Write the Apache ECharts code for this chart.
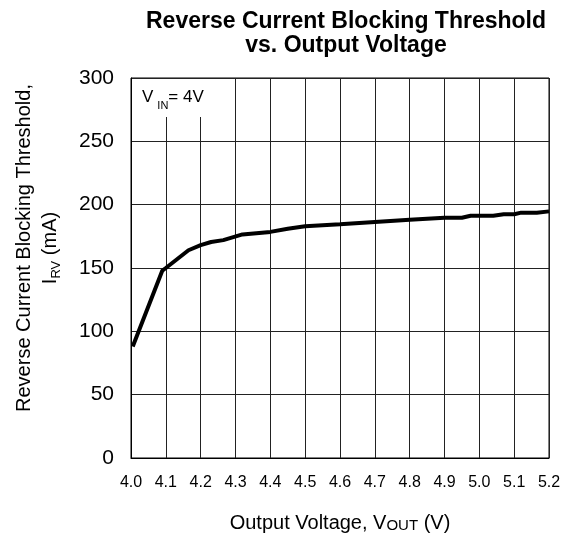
<!DOCTYPE html>
<html>
<head>
<meta charset="utf-8">
<script src="https://cdn.jsdelivr.net/npm/echarts@6/dist/echarts.min.js"></script>
<style>
  html, body { margin: 0; padding: 0; background: #fff; }
  #chart { width: 573px; height: 539px; }
</style>
</head>
<body>
<div id="chart"></div>
<script>
// output voltage (V) vs reverse current blocking threshold (mA)
const vout = [4.005, 4.09, 4.1, 4.165, 4.2, 4.23, 4.265, 4.32, 4.4, 4.45, 4.5, 4.6, 4.7, 4.8, 4.9, 4.95, 4.975, 5.04, 5.07, 5.1, 5.12, 5.165, 5.2];
const irv = [88, 148, 150, 164, 168, 170.5, 172, 176.5, 178.5, 181, 183, 184.5, 186.3, 188, 189.7, 189.7, 191.3, 191.3, 192.4, 192.4, 193.7, 193.7, 194.7];
const yTicks = [0, 50, 100, 150, 200, 250, 300];

const chart = echarts.init(document.getElementById("chart"));
const font = "Arial, 'Liberation Sans', sans-serif";

const option = {
  animation: false,
  textStyle: { fontFamily: font, color: "#000" },
  title: {
    text: "Reverse Current Blocking Threshold\nvs. Output Voltage",
    left: 341,
    textAlign: "center",
    top: 5,
    textStyle: { fontSize: 23, fontWeight: "bold", lineHeight: 24, color: "#000", fontFamily: font },
  },
  grid: {
    left: 131,
    right: 24,
    top: 78,
    bottom: 81,
    outerBoundsMode: "none",
    containLabel: false,
    show: true,
    borderColor: "#000",
    borderWidth: 1,
  },
  xAxis: {
    type: "value",
    min: 4.0,
    max: 5.2,
    interval: 0.1,
    name: "{n|Output Voltage, V}{s|OUT}{n| (V)}",
    nameLocation: "middle",
    nameGap: 55,
    nameTextStyle: {
      rich: {
        n: { fontSize: 20, fontFamily: font, color: "#000" },
        s: { fontSize: 15, fontFamily: font, color: "#000", verticalAlign: "bottom" },
      },
    },
    axisLine: { lineStyle: { color: "#000" } },
    axisTick: { show: false },
    axisLabel: {
      fontSize: 16,
      color: "#000",
      margin: 17,
      formatter: (v) => v.toFixed(1),
    },
    splitLine: { lineStyle: { color: "#222", width: 1 } },
  },
  yAxis: {
    type: "value",
    min: yTicks[0],
    max: yTicks[yTicks.length - 1],
    interval: 50,
    name: "{n|Reverse Current Blocking Threshold,}\n{n|I}{s|RV}{n| (mA)}",
    nameLocation: "middle",
    nameGap: 68,
    nameRotate: 90,
    nameTextStyle: {
      lineHeight: 26,
      padding: [0, 0, 0, 40],
      rich: {
        n: { fontSize: 20, fontFamily: font, color: "#000", lineHeight: 26 },
        s: { fontSize: 13, fontFamily: font, color: "#000", lineHeight: 26, verticalAlign: "bottom" },
      },
    },
    axisLine: { show: true, lineStyle: { color: "#000" } },
    axisTick: { show: false },
    axisLabel: { fontSize: 21, color: "#000", margin: 17 },
    splitLine: { lineStyle: { color: "#222", width: 1 } },
  },
  graphic: [
    {
      type: "rect",
      left: 132,
      top: 79,
      shape: { width: 78, height: 38 },
      style: { fill: "#fff" },
      z: 10,
    },
    {
      type: "text",
      left: 142,
      top: 89,
      style: {
        text: "{n|V}{s|IN}{n|= 4V}",
        rich: {
          n: { fontSize: 17, fontFamily: font, fill: "#000" },
          s: { fontSize: 11, fontFamily: font, fill: "#000", verticalAlign: "bottom", padding: [0, 0, -5, 4] },
        },
      },
      z: 11,
    },
  ],
  series: [
    {
      type: "line",
      data: vout.map((v, i) => [v, irv[i]]),
      showSymbol: false,
      lineStyle: { color: "#000", width: 4 },
      z: 5,
    },
  ],
};

chart.setOption(option);
</script>
</body>
</html>
